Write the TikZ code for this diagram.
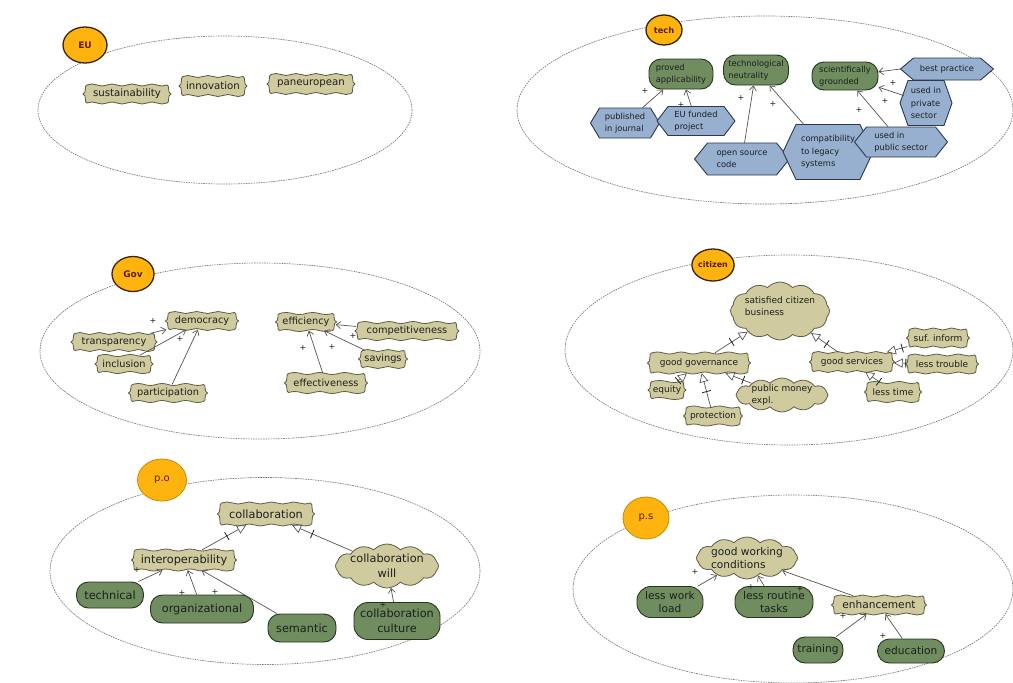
\documentclass[tikz,border=0pt]{standalone}
\usepackage{fontspec}
\setmainfont{DejaVu Sans}
\usetikzlibrary{shapes.symbols,shapes.geometric,arrows.meta,decorations.markings}

\definecolor{badgefill}{HTML}{FFB30F}
\definecolor{badgeline}{HTML}{3A2408}
\definecolor{badgesoft}{HTML}{C98A00}
\definecolor{badgetext}{HTML}{5A1E00}
\definecolor{tagfill}{HTML}{CFCB9F}
\definecolor{tagline}{HTML}{5E5C45}
\definecolor{leaffill}{HTML}{6F8D5E}
\definecolor{leafline}{HTML}{27351F}
\definecolor{hexfillc}{HTML}{97B0D0}
\definecolor{hexline}{HTML}{2C3850}
\definecolor{ink}{HTML}{1E1E1E}
\definecolor{wire}{HTML}{555555}
\definecolor{zoneline}{HTML}{7A7A7A}

\newcommand\fEU{\fontsize{10.2}{12}\selectfont}
\newcommand\fTech{\fontsize{8.3}{12.5}\selectfont}
\newcommand\fGov{\fontsize{9.8}{12}\selectfont}
\newcommand\fCit{\fontsize{9}{12}\selectfont}
\newcommand\fPO{\fontsize{11.3}{15}\selectfont}
\newcommand\fPS{\fontsize{10.6}{13}\selectfont}

\tikzset{
  zone/.style={ellipse, draw=zoneline, dash pattern=on 1.6pt off 0.9pt, line width=0.65pt, inner sep=0pt},
  badge/.style={ellipse, fill=badgefill, draw=badgeline, line width=1.3pt, inner sep=0pt, text=badgetext},
  tagbody/.style={fill=tagfill, draw=tagline, line width=0.8pt, line join=round},
  tagtext/.style={rectangle, inner sep=0pt, text=ink, align=center},
  blob/.style={cloud, cloud puffs=12, cloud puff arc=95, cloud ignores aspect, fill=tagfill, draw=tagline, line width=0.8pt, inner sep=0pt},
  words/.style={text=ink, align=center, inner sep=0pt},
  leaf/.style={rectangle, rounded corners=12pt, fill=leaffill, draw=leafline, line width=0.9pt, inner sep=0pt, text=ink, align=center},
  hexbody/.style={fill=hexfillc, draw=hexline, line width=0.9pt, line join=round},
  hextext/.style={rectangle, inner sep=0pt, text=ink, align=left, font=\fTech},
  posarrow/.style={draw=wire, line width=0.7pt, -{Straight Barb[length=4.5pt,width=7pt]}},
  genarrow/.style={draw=wire, line width=0.7pt, -{Triangle[open,length=9pt,width=9pt]},
    postaction={decorate},
    decoration={markings, mark=at position #1 with {\draw[-, draw=ink, line width=0.8pt] (0pt,-4.5pt) -- (0pt,4.5pt);}}},
  genarrow/.default=-19pt,
  plusmark/.style={inner sep=0pt, text=ink, font=\fontsize{8}{8}\selectfont},
}

% hexagon pointing left and right: name, x, y, width, height, tip length, text
\newcommand\hexnode[7]{%
  \filldraw[hexbody] ({#2-#4/2},{#3}) -- ({#2-#4/2+#6},{#3-#5/2}) -- ({#2+#4/2-#6},{#3-#5/2})
    -- ({#2+#4/2},{#3}) -- ({#2+#4/2-#6},{#3+#5/2}) -- ({#2-#4/2+#6},{#3+#5/2}) -- cycle;
  \node[hextext, minimum width={#4-#6}, minimum height={#5}] (#1) at (#2,#3) {#7};
  \coordinate (#1-w) at ({#2-#4/2},{#3});
}

% wavy banner with curled ends: font, name, x, y, width, height, text
\newcommand\tagnode[7]{%
  \pgfmathsetmacro\tgL{#3-#5/2}%
  \pgfmathsetmacro\tgR{#3+#5/2}%
  \pgfmathsetmacro\tgT{#4-#6/2}%
  \pgfmathsetmacro\tgB{#4+#6/2}%
  \pgfmathtruncatemacro\tgn{max(1,round((#5-8)/22))}%
  \pgfmathsetmacro\tgq{(#5-8)/(4*\tgn)}%
  \filldraw[tagbody] ({\tgL+4},\tgT)
    \foreach \k in {1,...,\tgn}{ sin ++(\tgq,-1) cos ++(\tgq,1) sin ++(\tgq,1) cos ++(\tgq,-1) }
    .. controls ({\tgR-1},\tgT) and ({\tgR-4},{#4-1}) .. (\tgR,#4)
    .. controls ({\tgR-4},{#4+1}) and ({\tgR-1},\tgB) .. ({\tgR-4},\tgB)
    \foreach \k in {1,...,\tgn}{ sin ++(-\tgq,1) cos ++(-\tgq,-1) sin ++(-\tgq,-1) cos ++(-\tgq,1) }
    .. controls ({\tgL+1},\tgB) and ({\tgL+4},{#4+1}) .. (\tgL,#4)
    .. controls ({\tgL+4},{#4-1}) and ({\tgL+1},\tgT) .. cycle;
  \node[tagtext, font=#1, minimum width={#5-2}, minimum height={#6}] (#2) at (#3,#4) {#7};
}

\begin{document}
\begin{tikzpicture}[x=1pt,y=-1pt]
\useasboundingbox (0,0) rectangle (1013,683);
\fill[white] (0,0) rectangle (1013,683);

% ---------------- EU ----------------
\node[zone, minimum width=374, minimum height=148] (euzone) at (225,110) {};
\node[badge, minimum width=44, minimum height=36, font=\bfseries\fontsize{9}{9}\selectfont] (eu) at (85,45) {EU};
\tagnode{\fEU}{sus}{127}{94}{88}{18}{sustainability}
\tagnode{\fEU}{inn}{213}{86}{68}{19}{innovation}
\tagnode{\fEU}{pan}{311}{84}{88}{19}{paneuropean}

% ---------------- tech ----------------
\node[zone, minimum width=496, minimum height=188] (techzone) at (765,110) {};
\node[badge, minimum width=36, minimum height=30, font=\bfseries\fontsize{8.3}{8}\selectfont] (tech) at (664,30) {tech};
\node[leaf, font=\fTech, align=left, minimum width=64, minimum height=30] (pa) at (681,74) {proved\\applicability};
\node[leaf, font=\fTech, align=left, minimum width=65, minimum height=30] (tn) at (756,70) {technological\\neutrality};
\node[leaf, font=\fTech, align=left, minimum width=66, minimum height=28] (sg) at (845,76) {scientifically\\grounded};
\hexnode{pj}{625}{123}{69}{30}{9}{published\\in journal}
\hexnode{ef}{696}{121}{78}{29}{11}{EU funded\\project}
\hexnode{osc}{742}{159}{95}{32}{13}{open source\\code}
\hexnode{cls}{828}{152}{90}{55}{13}{compatibility\\to legacy\\systems}
\hexnode{ups}{901}{142}{93}{30}{12}{used in\\public sector}
\hexnode{bp}{947}{69}{93}{22}{13}{best practice}
\hexnode{upr}{926}{103}{52}{45}{8}{used in\\private\\sector}
\draw[posarrow] (pj) -- (pa);
\draw[posarrow] (ef) -- (pa);
\draw[posarrow] (osc) -- (tn);
\draw[posarrow] (cls) -- (tn);
\draw[posarrow] (ups) -- (sg);
\draw[posarrow] (upr) -- (sg);
\draw[posarrow] (bp-w) -- (sg);
\node[plusmark] (tp1) at (645,91) {+};
\node[plusmark] (tp2) at (681,105) {+};
\node[plusmark] (tp3) at (741,98) {+};
\node[plusmark] (tp4) at (773,104) {+};
\node[plusmark] (tp5) at (859,110) {+};
\node[plusmark] (tp6) at (885,101) {+};
\node[plusmark] (tp7) at (893,83) {+};

% ---------------- Gov ----------------
\node[zone, minimum width=440, minimum height=176] (govzone) at (260,351) {};
\node[badge, minimum width=42, minimum height=35, font=\bfseries\fontsize{9}{9}\selectfont] (gov) at (133,274) {Gov};
\tagnode{\fGov}{dem}{202}{321}{73}{17}{democracy}
\tagnode{\fGov}{tra}{114}{342}{86}{17}{transparency}
\tagnode{\fGov}{inc}{124}{364}{58}{17}{inclusion}
\tagnode{\fGov}{par}{168}{393}{79}{17}{participation}
\tagnode{\fGov}{eff}{306}{322}{61}{17}{efficiency}
\tagnode{\fGov}{com}{407}{331}{104}{17}{competitiveness}
\tagnode{\fGov}{sav}{383}{359}{49}{17}{savings}
\tagnode{\fGov}{efv}{326}{383}{83}{19}{effectiveness}
\draw[posarrow] (tra) -- (dem);
\draw[posarrow] (inc) -- (dem);
\draw[posarrow] (par) -- (dem);
\draw[posarrow] (com) -- (eff);
\draw[posarrow] (sav) -- (eff);
\draw[posarrow] (efv) -- (eff);
\node[plusmark] (gp1) at (153,321) {+};
\node[plusmark] (gp2) at (180,339) {+};
\node[plusmark] (gp3) at (353,336) {+};
\node[plusmark] (gp4) at (332,347) {+};
\node[plusmark] (gp5) at (303,348) {+};

% ---------------- citizen ----------------
\node[zone, minimum width=448, minimum height=190] (citzone) at (789,350) {};
\node[badge, minimum width=40, minimum height=32, font=\bfseries\fontsize{8}{8}\selectfont] (cit) at (713,265) {citizen};
\node[blob, minimum width=99, minimum height=58, label={[words,font=\fCit,align=left,yshift=5pt]center:satisfied citizen\\business}] (scb) at (780,311) {};
\tagnode{\fCit}{gg}{699}{363}{103}{20}{good governance}
\tagnode{\fCit}{gs}{852}{362}{85}{19}{good services}
\tagnode{\fCit}{suf}{938}{338}{63}{18}{suf. inform}
\tagnode{\fCit}{lt}{942}{364}{73}{18}{less trouble}
\tagnode{\fCit}{ltm}{893}{392}{57}{19}{less time}
\tagnode{\fCit}{eq}{667}{390}{38}{17}{equity}
\tagnode{\fCit}{prot}{713}{416}{59}{18}{protection}
\node[blob, minimum width=92, minimum height=34, label={[words,font=\fCit,align=left]center:public money\\expl.}] (pme) at (782,395) {};
\draw[genarrow] (gg) -- (scb);
\draw[genarrow] (gs) -- (scb);
\draw[genarrow=-16pt] (suf) -- (gs);
\draw[genarrow=0.5pt] (lt) -- (gs);
\draw[genarrow=1pt] (ltm) -- (gs);
\draw[genarrow=1pt] (eq) -- (gg);
\draw[genarrow] (prot) -- (gg);
\draw[genarrow] (pme) -- (gg);

% ---------------- p.o ----------------
\node[zone, minimum width=430, minimum height=187] (pozone) at (265,571) {};
\node[badge, draw=badgesoft, line width=0.8pt, minimum width=49, minimum height=42, font=\fontsize{10}{10}\selectfont] (po) at (162,480) {p.o};
\tagnode{\fPO}{col}{266}{514}{97}{22}{collaboration}
\tagnode{\fPO}{iop}{184}{560}{105}{20}{interoperability}
\node[blob, minimum width=103, minimum height=44, label={[words,font=\fPO]center:collaboration\\will}] (cw) at (387,566) {};
\node[leaf, font=\fPO, minimum width=67, minimum height=26] (tec) at (110,595) {technical};
\node[leaf, font=\fPO, minimum width=103, minimum height=28] (org) at (202,609) {organizational};
\node[leaf, font=\fPO, minimum width=68, minimum height=28] (sem) at (302,628) {semantic};
\node[leaf, font=\fPO, rounded corners=14pt, minimum width=86, minimum height=37] (cc) at (397,621) {collaboration\\culture};
\draw[genarrow=-22pt] (iop) -- (col);
\draw[genarrow=-22pt] (cw) -- (col);
\draw[posarrow] (tec) -- (iop);
\draw[posarrow] (org) -- (iop);
\draw[posarrow] (sem) -- (iop);
\draw[posarrow] (cc) -- (cw);
\node[plusmark] (op1) at (137,570) {+};
\node[plusmark] (op2) at (182,593) {+};
\node[plusmark] (op3) at (215,592) {+};
\node[plusmark] (op4) at (383,605) {+};

% ---------------- p.s ----------------
\node[zone, minimum width=440, minimum height=188] (pszone) at (793,589) {};
\node[badge, draw=badgesoft, line width=0.8pt, minimum width=46, minimum height=42, font=\fontsize{10}{10}\selectfont] (ps) at (646,518) {p.s};
\node[blob, minimum width=101, minimum height=42, label={[words,font=\fPS,align=left]center:good working\\conditions}] (gwc) at (747,558) {};
\node[leaf, font=\fPS, rounded corners=14pt, minimum width=66, minimum height=31] (lwl) at (670,602) {less work\\load};
\node[leaf, font=\fPS, rounded corners=14pt, minimum width=78, minimum height=31] (lrt) at (774,602) {less routine\\tasks};
\tagnode{\fPS}{enh}{879}{605}{95}{18}{enhancement}
\node[leaf, font=\fPS, minimum width=50, minimum height=26] (trn) at (818,650) {training};
\node[leaf, font=\fPS, minimum width=67, minimum height=24] (edu) at (911,651) {education};
\draw[posarrow] (lwl) -- (gwc);
\draw[posarrow] (lrt) -- (gwc);
\draw[posarrow] (enh) -- (gwc);
\draw[posarrow] (trn) -- (enh);
\draw[posarrow] (edu) -- (enh);
\node[plusmark] (sp1) at (695,572) {+};
\node[plusmark] (sp2) at (800,589) {+};
\node[plusmark] (sp3) at (751,587) {+};
\node[plusmark] (sp4) at (843,616) {+};
\node[plusmark] (sp5) at (883,636) {+};
\end{tikzpicture}
\end{document}
